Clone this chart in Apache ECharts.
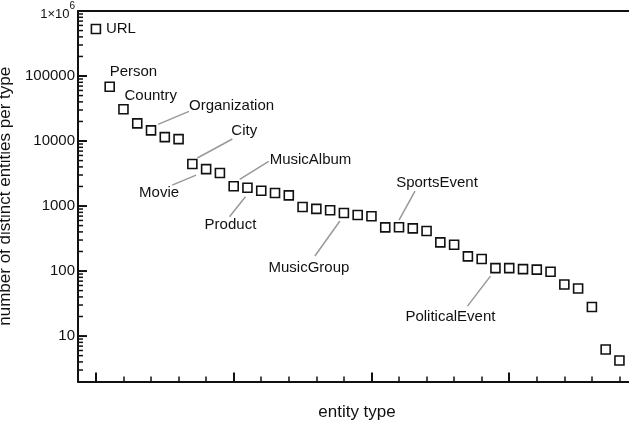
<!DOCTYPE html>
<html lang="en">
  <head>
    <meta charset="UTF-8" />
    <title>entity types</title>
    <style>
      html, body { margin: 0; padding: 0; background: #fff; }
      #main { width: 629px; height: 425px; }
    </style>
  </head>
  <body>
    <div id="main"></div>
    <script src="https://cdn.jsdelivr.net/npm/echarts@6/dist/echarts.min.js"></script>
    <script>
      // number of distinct entities per type, sorted, one value per entity type
      const counts = [
        528000, 68300, 30800, 18700, 14600, 11500, 10700, 4430, 3700, 3220,
        2010, 1910, 1720, 1585, 1460, 966, 905, 860, 780, 728,
        695, 470, 472, 454, 412, 276, 254, 168, 153, 111,
        111, 107, 105, 97.5, 62, 54, 28, 6.2, 4.2
      ];
      // labelled entity types: index of the point they belong to
      const labelNames = ["URL", "Person", "Country", "Organization", "City", "Movie",
        "MusicAlbum", "Product", "MusicGroup", "SportsEvent", "PoliticalEvent"];
      const labelIndex = [0, 1, 2, 4, 7, 8, 10, 11, 18, 22, 29];
      // label placement relative to its point (px): text dx, dy, align, leader start / end
      const labelPlace = [
        [10, 0, "left", null],
        [0, -15, "left", null],
        [1, -13, "left", null],
        [38, -24, "left", [7, -6, 38, -19]],
        [39, -33, "left", [5, -6, 40, -25]],
        [-27, 24, "right", [-34, 16, -10, 6]],
        [36, -26, "left", [6, -7, 35, -25]],
        [-17, 37, "center", [-18, 29, -2, 9]],
        [-35, 55, "center", [-29, 43, -4, 8]],
        [38, -44, "center", [16, -36, 0, -7]],
        [-45, 49, "center", [-28, 38, -5, 8]]
      ];
      const majorX = [0, 10, 20, 30, 40];
      const minorX = [2, 4, 6, 8, 12, 14, 16, 18, 22, 24, 26, 28, 32, 34, 36, 38];
      const majorY = [10, 100, 1000, 10000, 100000, 1000000];
      const minorY = [];
      [1, 10, 100, 1000, 10000, 100000].forEach((d) => {
        for (let k = 3; k <= 9; k++) minorY.push(k * d);
        if (d > 1) minorY.push(2 * d);
      });
      const xMin = -1.3;
      const yMin = 2;
      const yMax = 1000000;

      const font = "Liberation Sans, Arial, Helvetica, sans-serif";
      const ink = "#111";

      function yLabel(v) {
        const hit = majorY.find((m) => Math.abs(v - m) / m < 1e-6);
        if (!hit) return "";
        return hit === 1000000 ? "{b|1×10}{s|6}" : String(hit);
      }

      let mchart = echarts.init(document.getElementById("main"));
      let baseX = {
        type: "value",
        min: xMin,
        max: 40,
        position: "bottom",
        axisLine: { show: false, onZero: false },
        axisTick: { show: false },
        axisLabel: { show: false },
        splitLine: { show: false },
      };
      let option = {
        animation: false,
        grid: { left: 78, top: 11, width: 569, height: 370.5, containLabel: false, outerBoundsMode: "none" },
        xAxis: [
          Object.assign({}, baseX, {
            axisLine: { show: true, onZero: false, lineStyle: { color: ink, width: 2 } },
            axisTick: { show: true, inside: true, length: 9, lineStyle: { color: ink, width: 2 }, customValues: majorX },
            name: "entity type",
            nameLocation: "middle",
            nameGap: 22,
            nameTextStyle: { fontFamily: font, fontSize: 17, color: ink, padding: [0, 11, 0, 0] },
          }),
          Object.assign({}, baseX, {
            axisTick: { show: true, inside: true, length: 5, lineStyle: { color: ink, width: 1.5 }, customValues: minorX },
          }),
          Object.assign({}, baseX, {
            position: "top",
            axisLine: { show: true, onZero: false, lineStyle: { color: ink, width: 2 } },
          }),
        ],
        yAxis: [
          {
            type: "log",
            logBase: 10,
            min: yMin,
            max: yMax,
            position: "left",
            axisLine: { show: true, onZero: false, lineStyle: { color: ink, width: 2 } },
            axisTick: { show: false },
            minorTick: { show: false },
            splitLine: { show: false },
            axisLabel: {
              show: true,
              margin: 3,
              fontFamily: font,
              fontSize: 15,
              color: ink,
              formatter: yLabel,
              rich: {
                b: { fontFamily: font, fontSize: 13, color: ink, verticalAlign: "bottom", padding: [6, 0, 0, 0] },
                s: { fontFamily: font, fontSize: 10, color: ink, verticalAlign: "top", padding: [0, 0, 6, 0] },
              },
            },
            name: "number of distinct entities per type",
            nameLocation: "middle",
            nameGap: 56,
            nameTextStyle: { fontFamily: font, fontSize: 17, color: ink },
          },
        ],
        series: [
          {
            type: "scatter",
            xAxisIndex: 0,
            yAxisIndex: 0,
            symbol: "rect",
            symbolSize: 9,
            itemStyle: { color: "#fff", borderColor: ink, borderWidth: 1.6, opacity: 1 },
            data: counts.map((v, i) => [i, v]),
          },
        ],
      };
      mchart.setOption(option);

      let graphics = [];
      // y ticks (inside, decade + minor) positioned through the chart's own scales
      const addTick = (v, len, w) => {
        const p = mchart.convertToPixel({ xAxisIndex: 0, yAxisIndex: 0 }, [xMin, v]);
        graphics.push({
          type: "line",
          z: 5,
          shape: { x1: p[0], y1: p[1], x2: p[0] + len, y2: p[1] },
          style: { stroke: ink, lineWidth: w },
        });
      };
      majorY.forEach((v) => addTick(v, 9, 2));
      minorY.forEach((v) => addTick(v, 5, 1.5));

      // labels with leader lines, placed from the points' pixel positions
      labelNames.forEach((name, k) => {
        const i = labelIndex[k];
        const p = mchart.convertToPixel({ xAxisIndex: 0, yAxisIndex: 0 }, [i, counts[i]]);
        const pl = labelPlace[k];
        graphics.push({
          type: "text",
          z: 10,
          style: {
            text: name,
            x: p[0] + pl[0],
            y: p[1] + pl[1],
            textAlign: pl[2],
            textVerticalAlign: "middle",
            font: "15px " + font,
            fill: ink,
          },
        });
        if (pl[3]) {
          const l = pl[3];
          graphics.push({
            type: "line",
            z: 9,
            shape: { x1: p[0] + l[0], y1: p[1] + l[1], x2: p[0] + l[2], y2: p[1] + l[3] },
            style: { stroke: "#999", lineWidth: 1.5 },
          });
        }
      });
      mchart.setOption({ graphic: graphics });
    </script>
  </body>
</html>
